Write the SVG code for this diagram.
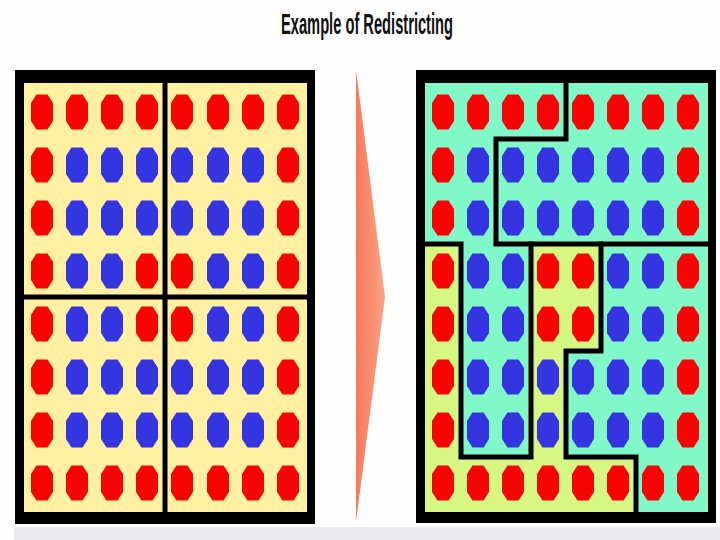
<svg xmlns="http://www.w3.org/2000/svg" xmlns:xlink="http://www.w3.org/1999/xlink" width="720" height="540" viewBox="0 0 720 540">
<style>
.r{fill:#f80404}
.b{fill:#3434e0}
.line{fill:none;stroke:#000;stroke-width:5;stroke-linejoin:miter;stroke-linecap:square}
.title{font-family:"Liberation Sans Narrow","Liberation Sans",Arial,sans-serif;font-weight:bold;font-size:30px;fill:#111}
</style>
<defs>
<polygon id="dot" points="-5.5,-17.5 5.5,-17.5 11,-9 11,9 5.5,17.5 -5.5,17.5 -11,9 -11,-9"/>
<linearGradient id="arrowGrad" x1="0" y1="0" x2="1" y2="0">
<stop offset="0" stop-color="#f7785a"/>
<stop offset="1" stop-color="#fca486"/>
</linearGradient>
</defs>
<rect width="720" height="540" fill="#fefefe"/>
<rect x="14" y="527" width="706" height="13" fill="#ebebef"/>
<text class="title" x="281" y="34" textLength="172" lengthAdjust="spacingAndGlyphs">Example of Redistricting</text>

<g id="before">
<rect x="15" y="70" width="300" height="454" fill="#000"/>
<rect x="24" y="83" width="283" height="429" fill="#fff0a2"/>
<path class="line" d="M165 83V512M24 297H307"/>
<g id="before-dots">
<g transform="translate(0,112)"><use href="#dot" x="42" class="r"/><use href="#dot" x="77" class="r"/><use href="#dot" x="112" class="r"/><use href="#dot" x="147" class="r"/><use href="#dot" x="182" class="r"/><use href="#dot" x="218" class="r"/><use href="#dot" x="253" class="r"/><use href="#dot" x="288" class="r"/></g>
<g transform="translate(0,165)"><use href="#dot" x="42" class="r"/><use href="#dot" x="77" class="b"/><use href="#dot" x="112" class="b"/><use href="#dot" x="147" class="b"/><use href="#dot" x="182" class="b"/><use href="#dot" x="218" class="b"/><use href="#dot" x="253" class="b"/><use href="#dot" x="288" class="r"/></g>
<g transform="translate(0,218)"><use href="#dot" x="42" class="r"/><use href="#dot" x="77" class="b"/><use href="#dot" x="112" class="b"/><use href="#dot" x="147" class="b"/><use href="#dot" x="182" class="b"/><use href="#dot" x="218" class="b"/><use href="#dot" x="253" class="b"/><use href="#dot" x="288" class="r"/></g>
<g transform="translate(0,271)"><use href="#dot" x="42" class="r"/><use href="#dot" x="77" class="b"/><use href="#dot" x="112" class="b"/><use href="#dot" x="147" class="r"/><use href="#dot" x="182" class="r"/><use href="#dot" x="218" class="b"/><use href="#dot" x="253" class="b"/><use href="#dot" x="288" class="r"/></g>
<g transform="translate(0,324)"><use href="#dot" x="42" class="r"/><use href="#dot" x="77" class="b"/><use href="#dot" x="112" class="b"/><use href="#dot" x="147" class="r"/><use href="#dot" x="182" class="r"/><use href="#dot" x="218" class="b"/><use href="#dot" x="253" class="b"/><use href="#dot" x="288" class="r"/></g>
<g transform="translate(0,377)"><use href="#dot" x="42" class="r"/><use href="#dot" x="77" class="b"/><use href="#dot" x="112" class="b"/><use href="#dot" x="147" class="b"/><use href="#dot" x="182" class="b"/><use href="#dot" x="218" class="b"/><use href="#dot" x="253" class="b"/><use href="#dot" x="288" class="r"/></g>
<g transform="translate(0,430)"><use href="#dot" x="42" class="r"/><use href="#dot" x="77" class="b"/><use href="#dot" x="112" class="b"/><use href="#dot" x="147" class="b"/><use href="#dot" x="182" class="b"/><use href="#dot" x="218" class="b"/><use href="#dot" x="253" class="b"/><use href="#dot" x="288" class="r"/></g>
<g transform="translate(0,483)"><use href="#dot" x="42" class="r"/><use href="#dot" x="77" class="r"/><use href="#dot" x="112" class="r"/><use href="#dot" x="147" class="r"/><use href="#dot" x="182" class="r"/><use href="#dot" x="218" class="r"/><use href="#dot" x="253" class="r"/><use href="#dot" x="288" class="r"/></g>
</g>
</g>

<g id="arrow">
<polygon points="356,70 385,297 356,522" fill="url(#arrowGrad)"/>
</g>

<g id="after">
<rect x="416" y="70" width="300" height="453" fill="#000"/>
<rect x="425" y="83" width="283" height="429" fill="#80f8c8"/>
<polygon points="425,244 461,244 461,457 531,457 531,244 601,244 601,351 566,351 566,457 636,457 636,512 425,512" fill="#d6f882"/>
<g id="after-dots" transform="translate(401,0)">
<g transform="translate(0,112)"><use href="#dot" x="42" class="r"/><use href="#dot" x="77" class="r"/><use href="#dot" x="112" class="r"/><use href="#dot" x="147" class="r"/><use href="#dot" x="182" class="r"/><use href="#dot" x="217" class="r"/><use href="#dot" x="252" class="r"/><use href="#dot" x="287" class="r"/></g>
<g transform="translate(0,165)"><use href="#dot" x="42" class="r"/><use href="#dot" x="77" class="b"/><use href="#dot" x="112" class="b"/><use href="#dot" x="147" class="b"/><use href="#dot" x="182" class="b"/><use href="#dot" x="217" class="b"/><use href="#dot" x="252" class="b"/><use href="#dot" x="287" class="r"/></g>
<g transform="translate(0,218)"><use href="#dot" x="42" class="r"/><use href="#dot" x="77" class="b"/><use href="#dot" x="112" class="b"/><use href="#dot" x="147" class="b"/><use href="#dot" x="182" class="b"/><use href="#dot" x="217" class="b"/><use href="#dot" x="252" class="b"/><use href="#dot" x="287" class="r"/></g>
<g transform="translate(0,271)"><use href="#dot" x="42" class="r"/><use href="#dot" x="77" class="b"/><use href="#dot" x="112" class="b"/><use href="#dot" x="147" class="r"/><use href="#dot" x="182" class="r"/><use href="#dot" x="217" class="b"/><use href="#dot" x="252" class="b"/><use href="#dot" x="287" class="r"/></g>
<g transform="translate(0,324)"><use href="#dot" x="42" class="r"/><use href="#dot" x="77" class="b"/><use href="#dot" x="112" class="b"/><use href="#dot" x="147" class="r"/><use href="#dot" x="182" class="r"/><use href="#dot" x="217" class="b"/><use href="#dot" x="252" class="b"/><use href="#dot" x="287" class="r"/></g>
<g transform="translate(0,377)"><use href="#dot" x="42" class="r"/><use href="#dot" x="77" class="b"/><use href="#dot" x="112" class="b"/><use href="#dot" x="147" class="b"/><use href="#dot" x="182" class="b"/><use href="#dot" x="217" class="b"/><use href="#dot" x="252" class="b"/><use href="#dot" x="287" class="r"/></g>
<g transform="translate(0,430)"><use href="#dot" x="42" class="r"/><use href="#dot" x="77" class="b"/><use href="#dot" x="112" class="b"/><use href="#dot" x="147" class="b"/><use href="#dot" x="182" class="b"/><use href="#dot" x="217" class="b"/><use href="#dot" x="252" class="b"/><use href="#dot" x="287" class="r"/></g>
<g transform="translate(0,483)"><use href="#dot" x="42" class="r"/><use href="#dot" x="77" class="r"/><use href="#dot" x="112" class="r"/><use href="#dot" x="147" class="r"/><use href="#dot" x="182" class="r"/><use href="#dot" x="217" class="r"/><use href="#dot" x="252" class="r"/><use href="#dot" x="287" class="r"/></g>
</g>
<g id="district-lines">
<path class="line" d="M566 83V139H496V244H708"/>
<path class="line" d="M425 244H461V457H531V244"/>
<path class="line" d="M601 244V351H566V457H636V512"/>
</g>
</g>
</svg>
